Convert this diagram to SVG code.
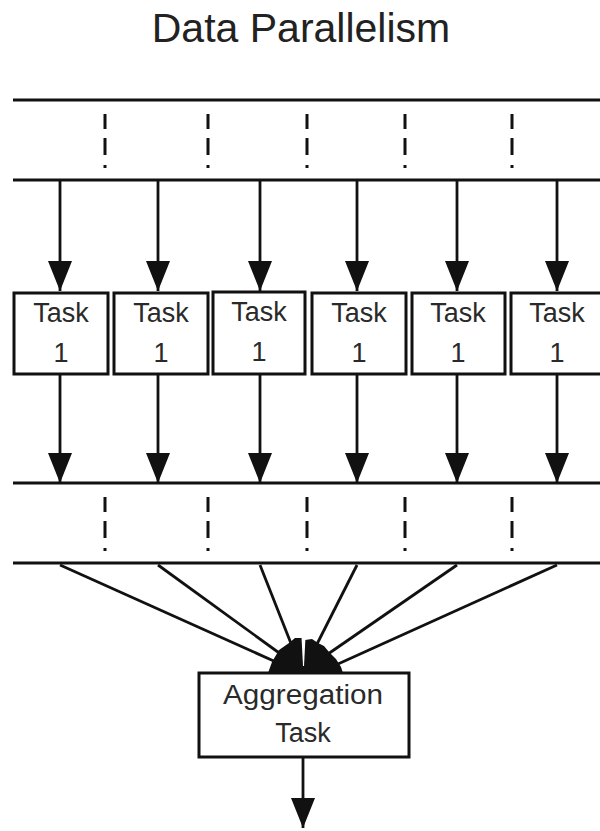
<svg xmlns="http://www.w3.org/2000/svg" width="600" height="831" viewBox="0 0 600 831">
  <style>
    .rail { stroke: #111; stroke-width: 3; fill: none; }
    .dash { stroke: #111; stroke-width: 3; fill: none; stroke-dasharray: 15 9 17 10 3 40; }
    .wire { stroke: #111; stroke-width: 2.8; fill: none; }
    .box { fill: #fff; stroke: #111; stroke-width: 3; }
    .lbl { font-family: "Liberation Sans", Arial, sans-serif; font-size: 27px; fill: #2a2a2a; text-anchor: middle; }
    .title { font-family: "Liberation Sans", Arial, sans-serif; font-size: 41px; fill: #222; text-anchor: middle; }
  </style>
  <defs>
    <marker id="arrow" viewBox="0 0 30 24" refX="30" refY="12" markerWidth="30" markerHeight="24" markerUnits="userSpaceOnUse" orient="auto">
      <path d="M0,0 L30,12 L0,24 Z" fill="#111"/>
    </marker>
  </defs>

  <text class="title" x="301" y="42">Data Parallelism</text>

  <!-- input data band -->
  <g id="input-band">
    <line class="rail" x1="13" y1="100" x2="600" y2="100"/>
    <line class="rail" x1="13" y1="180" x2="600" y2="180"/>
    <line class="dash" x1="105" y1="114" x2="105" y2="170"/>
    <line class="dash" x1="208" y1="114" x2="208" y2="170"/>
    <line class="dash" x1="307" y1="114" x2="307" y2="170"/>
    <line class="dash" x1="405" y1="114" x2="405" y2="170"/>
    <line class="dash" x1="512" y1="114" x2="512" y2="170"/>
  </g>

  <!-- output data band -->
  <g id="output-band">
    <line class="rail" x1="13" y1="483" x2="600" y2="483"/>
    <line class="rail" x1="13" y1="563" x2="600" y2="563"/>
    <line class="dash" x1="105" y1="497" x2="105" y2="553"/>
    <line class="dash" x1="208" y1="497" x2="208" y2="553"/>
    <line class="dash" x1="307" y1="497" x2="307" y2="553"/>
    <line class="dash" x1="405" y1="497" x2="405" y2="553"/>
    <line class="dash" x1="512" y1="497" x2="512" y2="553"/>
  </g>

  <!-- task nodes -->
  <g id="task-1">
    <rect class="box" x="14" y="293" width="94" height="81"/>
    <text class="lbl" x="61" y="322">Task</text>
    <text class="lbl" x="61" y="362">1</text>
  </g>
  <g id="task-2">
    <rect class="box" x="114" y="293" width="94" height="81"/>
    <text class="lbl" x="161" y="322">Task</text>
    <text class="lbl" x="161" y="362">1</text>
  </g>
  <g id="task-3">
    <rect class="box" x="213" y="292" width="92" height="82" stroke-width="4"/>
    <text class="lbl" x="259" y="321">Task</text>
    <text class="lbl" x="259" y="361">1</text>
  </g>
  <g id="task-4">
    <rect class="box" x="312" y="293" width="94" height="81"/>
    <text class="lbl" x="359" y="322">Task</text>
    <text class="lbl" x="359" y="362">1</text>
  </g>
  <g id="task-5">
    <rect class="box" x="412" y="293" width="93" height="81"/>
    <text class="lbl" x="458" y="322">Task</text>
    <text class="lbl" x="458" y="362">1</text>
  </g>
  <g id="task-6">
    <rect class="box" x="511" y="293" width="94" height="81"/>
    <text class="lbl" x="557" y="322">Task</text>
    <text class="lbl" x="557" y="362">1</text>
  </g>

  <!-- aggregation node -->
  <g id="aggregation">
    <rect class="box" x="199" y="673" width="210" height="84"/>
    <text class="lbl" x="303" y="704" textLength="160" lengthAdjust="spacingAndGlyphs">Aggregation</text>
    <text class="lbl" x="303" y="742">Task</text>
  </g>

  <g id="connectors">
    <!-- input to tasks -->
    <line class="wire" x1="60" y1="181" x2="60" y2="291" marker-end="url(#arrow)"/>
    <line class="wire" x1="158" y1="181" x2="158" y2="291" marker-end="url(#arrow)"/>
    <line class="wire" x1="260" y1="181" x2="260" y2="291" marker-end="url(#arrow)"/>
    <line class="wire" x1="357" y1="181" x2="357" y2="291" marker-end="url(#arrow)"/>
    <line class="wire" x1="457" y1="181" x2="457" y2="291" marker-end="url(#arrow)"/>
    <line class="wire" x1="557" y1="181" x2="557" y2="291" marker-end="url(#arrow)"/>
    <!-- tasks to output -->
    <line class="wire" x1="60" y1="375" x2="60" y2="483" marker-end="url(#arrow)"/>
    <line class="wire" x1="158" y1="375" x2="158" y2="483" marker-end="url(#arrow)"/>
    <line class="wire" x1="260" y1="375" x2="260" y2="483" marker-end="url(#arrow)"/>
    <line class="wire" x1="357" y1="375" x2="357" y2="483" marker-end="url(#arrow)"/>
    <line class="wire" x1="457" y1="375" x2="457" y2="483" marker-end="url(#arrow)"/>
    <line class="wire" x1="557" y1="375" x2="557" y2="483" marker-end="url(#arrow)"/>
    <!-- output fan-in to aggregation -->
    <line class="wire" x1="60" y1="565" x2="276" y2="662"/>
    <line class="wire" x1="158" y1="565" x2="282" y2="655"/>
    <line class="wire" x1="260" y1="565" x2="292" y2="646"/>
    <line class="wire" x1="357" y1="565" x2="316" y2="646"/>
    <line class="wire" x1="457" y1="565" x2="328" y2="654"/>
    <line class="wire" x1="557" y1="565" x2="338" y2="664"/>
    <!-- merged arrowheads on the aggregation box -->
    <path d="M268,673 L272,662 L279,650 L289,643 L295,638 L302,638 L305,640 L312,639 L318,643 L324,646 L329,652 L336,659 L341,667 L343,673 Z" fill="#111"/>
    <path d="M301.5,637 L305.5,637 L304,666 L303,666 Z" fill="#fff"/>
    <!-- aggregation result -->
    <line class="wire" x1="303" y1="758" x2="303" y2="828" marker-end="url(#arrow)"/>
  </g>
</svg>
